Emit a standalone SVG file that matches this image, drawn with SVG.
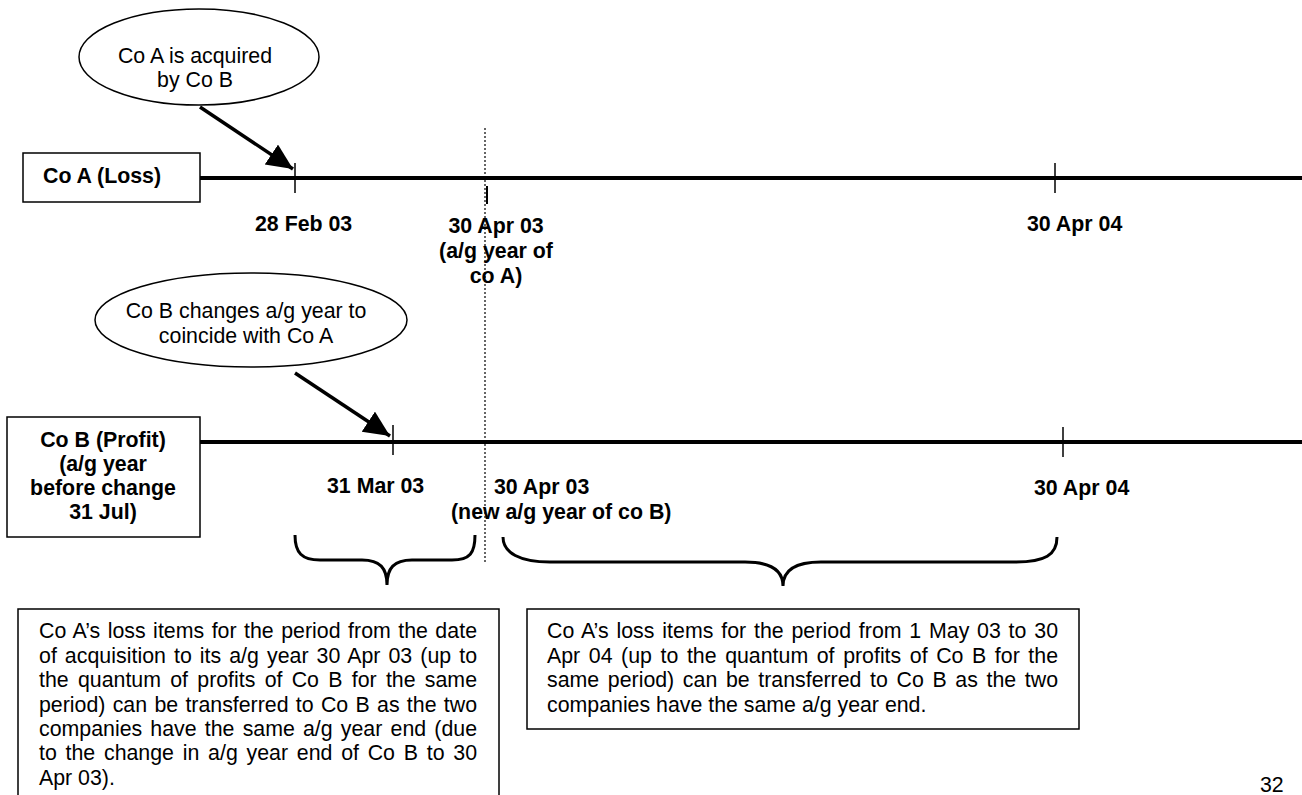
<svg xmlns="http://www.w3.org/2000/svg" width="1302" height="795" viewBox="0 0 1302 795">
<style>
text{font-family:"Liberation Sans",Arial,sans-serif;font-size:21.33px;fill:#000}
.b{font-weight:bold}
.c{text-anchor:middle}
.box{fill:#fff;stroke:#000;stroke-width:1.5}
.tl{stroke:#000;stroke-width:4;fill:none}
.tick{stroke:#000;stroke-width:1.5}
.arr{stroke:#000;stroke-width:3.5;fill:none}
.brace{stroke:#000;stroke-width:3;fill:none}
</style>
<defs>
<marker id="ah" markerUnits="userSpaceOnUse" markerWidth="30" markerHeight="26" refX="26" refY="12" orient="auto">
<path d="M0,0 L26,12 L0,24 Z" fill="#000"/>
</marker>
</defs>
<rect width="1302" height="795" fill="#fff"/>
<g id="timelines">
<line class="tl" x1="200" y1="178" x2="1302" y2="178"/>
<line class="tl" x1="200" y1="442" x2="1302" y2="442"/>
<line class="tick" x1="295" y1="163" x2="295" y2="193"/>
<line class="tick" x1="487" y1="186" x2="487" y2="204" style="stroke-width:2"/>
<line class="tick" x1="1055" y1="163" x2="1055" y2="193"/>
<line class="tick" x1="393" y1="425" x2="393" y2="455"/>
<line class="tick" x1="1063" y1="427" x2="1063" y2="457"/>
<line x1="485" y1="128" x2="485" y2="563" stroke="#000" stroke-width="1.2" stroke-dasharray="2,2"/>
</g>
<g id="node-coA">
<rect class="box" x="23" y="153" width="177" height="49"/>
<text class="b" x="43" y="183">Co A (Loss)</text>
</g>
<g id="node-coB">
<rect class="box" x="7" y="417" width="193" height="120"/>
<text class="b c" x="103" y="447">Co B (Profit)</text>
<text class="b c" x="103" y="471">(a/g year</text>
<text class="b c" x="103" y="495">before change</text>
<text class="b c" x="103" y="519">31 Jul)</text>
</g>
<g id="node-acquired">
<ellipse class="box" cx="199" cy="57" rx="120" ry="48"/>
<text class="c" x="195" y="63">Co A is acquired</text>
<text class="c" x="195" y="87">by Co B</text>
</g>
<g id="node-change">
<ellipse class="box" cx="251" cy="320" rx="156" ry="47"/>
<text class="c" x="246" y="318">Co B changes a/g year to</text>
<text class="c" x="246" y="343">coincide with Co A</text>
</g>
<g id="labels">
<text class="b" x="255" y="231">28 Feb 03</text>
<text class="b c" x="496" y="233">30 Apr 03</text>
<text class="b c" x="496" y="258">(a/g year of</text>
<text class="b c" x="496" y="283">co A)</text>
<text class="b" x="1027" y="231">30 Apr 04</text>
<text class="b" x="327" y="493">31 Mar 03</text>
<text class="b" x="494" y="494">30 Apr 03</text>
<text class="b" x="451" y="519">(new a/g year of co B)</text>
<text class="b" x="1034" y="495">30 Apr 04</text>
</g>
<g id="connectors">
<line class="arr" x1="200" y1="107" x2="293" y2="169" marker-end="url(#ah)"/>
<line class="arr" x1="295" y1="373" x2="390" y2="436" marker-end="url(#ah)"/>
<path class="brace" d="M295,535 C295,553 302,560 320,560 L362,560 C380,560 387,568 387,585 C387,568 394,560 412,560 L452,560 C470,560 475,553 475,535"/>
<path class="brace" d="M503,537 C503,553 520,562 550,562 L745,562 C770,562 783,570 783,586 C783,570 796,562 821,562 L1015,562 C1045,562 1057,555 1057,537"/>
</g>
<g id="node-note1">
<rect class="box" x="18" y="609" width="481" height="200"/>
<text x="39" y="638" word-spacing="1.4" textLength="438" lengthAdjust="spacing">Co A’s loss items for the period from the date</text>
<text x="39" y="663" word-spacing="2.07" textLength="438" lengthAdjust="spacing">of acquisition to its a/g year 30 Apr 03 (up to</text>
<text x="39" y="687" word-spacing="3.35" textLength="438" lengthAdjust="spacing">the quantum of profits of Co B for the same</text>
<text x="39" y="712" word-spacing="1.38" textLength="438" lengthAdjust="spacing">period) can be transferred to Co B as the two</text>
<text x="39" y="736" word-spacing="2.27" textLength="438" lengthAdjust="spacing">companies have the same a/g year end (due</text>
<text x="39" y="760" word-spacing="2.85" textLength="438" lengthAdjust="spacing">to the change in a/g year end of Co B to 30</text>
<text x="39" y="785">Apr 03).</text>
</g>
<g id="node-note2">
<rect class="box" x="527" y="609" width="552" height="120"/>
<text x="547" y="638" word-spacing="1.68" textLength="511" lengthAdjust="spacing">Co A’s loss items for the period from 1 May 03 to 30</text>
<text x="547" y="663" word-spacing="2.67" textLength="511" lengthAdjust="spacing">Apr 04 (up to the quantum of profits of Co B for the</text>
<text x="547" y="687" word-spacing="2.73" textLength="511" lengthAdjust="spacing">same period) can be transferred to Co B as the two</text>
<text x="547" y="712">companies have the same a/g year end.</text>
</g>
<text x="1260" y="792">32</text>
</svg>
